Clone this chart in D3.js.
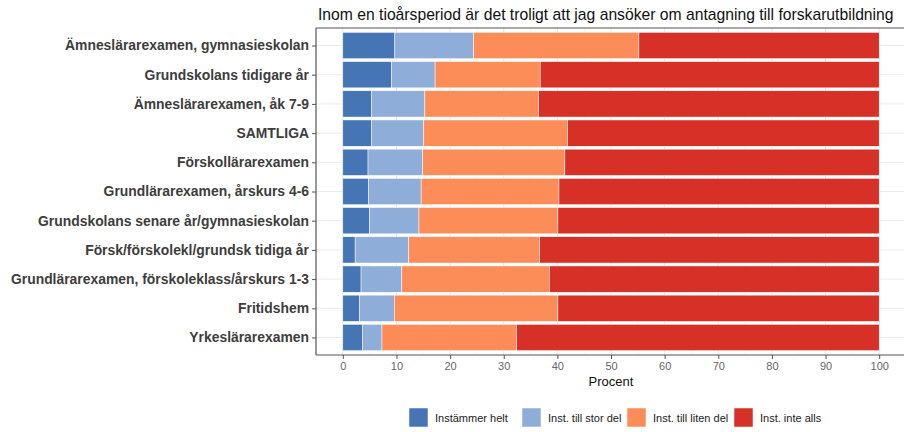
<!DOCTYPE html>
<html>
<head>
<meta charset="utf-8">
<script src="https://d3js.org/d3.v7.min.js"></script>
<style>
  body { margin: 0; background: #fff; }
  svg text { font-family: "Liberation Sans", Arial, sans-serif; }
</style>
</head>
<body>
<svg id="chart" width="904" height="432"></svg>
<script>
// categories, top to bottom
var categories = [
  "Ämneslärarexamen, gymnasieskolan",
  "Grundskolans tidigare år",
  "Ämneslärarexamen, åk 7-9",
  "SAMTLIGA",
  "Förskollärarexamen",
  "Grundlärarexamen, årskurs 4-6",
  "Grundskolans senare år/gymnasieskolan",
  "Försk/förskolekl/grundsk tidiga år",
  "Grundlärarexamen, förskoleklass/årskurs 1-3",
  "Fritidshem",
  "Yrkeslärarexamen"
];
var seriesNames = ["Instämmer helt", "Inst. till stor del", "Inst. till liten del", "Inst. inte alls"];
var seriesColors = ["#4575b4", "#8fadd9", "#fc8d59", "#d73027"];

// percent per answer, same order as categories
var helt     = [9.7, 9.1, 5.3, 5.3, 4.7, 4.8, 5.0, 2.3, 3.4, 3.1, 3.7];
var storDel  = [14.7, 8.1, 10.0, 9.8, 10.2, 9.8, 9.2, 10.0, 7.6, 6.5, 3.6];
var litenDel = [30.8, 19.6, 21.2, 26.8, 26.5, 25.7, 25.9, 24.4, 27.5, 30.5, 25.1];
var inteAlls = [44.8, 63.2, 63.5, 58.1, 58.6, 59.7, 59.9, 63.3, 61.5, 59.9, 67.6];
var xTicks = [0, 10, 20, 30, 40, 50, 60, 70, 80, 90, 100];

var svg = d3.select("#chart");
var pLeft = 316, pTop = 28, pRight = 906, pBottom = 355;

var x = d3.scaleLinear().domain([-5, 105]).range([pLeft, pRight]);
// discrete axis with 0.6 unit expansion each side
var y = d3.scalePoint().domain(categories).range([pTop, pBottom]).padding(0.6);
var step = y.step();
var barH = step * 0.9;

// grid
var g = svg.append("g");
d3.range(5, 105, 10).forEach(function(v) {
  g.append("line").attr("x1", x(v)).attr("x2", x(v)).attr("y1", pTop).attr("y2", pBottom)
    .attr("stroke", "#f3f3f3").attr("stroke-width", 0.6);
});
xTicks.forEach(function(v) {
  g.append("line").attr("x1", x(v)).attr("x2", x(v)).attr("y1", pTop).attr("y2", pBottom)
    .attr("stroke", "#e6e6e6").attr("stroke-width", 1);
});
categories.forEach(function(c) {
  g.append("line").attr("x1", pLeft).attr("x2", pRight).attr("y1", y(c)).attr("y2", y(c))
    .attr("stroke", "#ececec").attr("stroke-width", 1);
});

// stacked bars
var rows = categories.map(function(c, i) {
  return { cat: c, "0": helt[i], "1": storDel[i], "2": litenDel[i], "3": inteAlls[i] };
});
var stack = d3.stack().keys(["0", "1", "2", "3"])(rows);

svg.append("g").selectAll("g")
  .data(stack)
  .join("g")
  .attr("fill", function(d, i) { return seriesColors[i]; })
  .selectAll("rect")
  .data(function(d) { return d; })
  .join("rect")
  .attr("x", function(d) { return x(d[0]); })
  .attr("width", function(d) { return x(d[1]) - x(d[0]); })
  .attr("y", function(d) { return y(d.data.cat) - barH / 2; })
  .attr("height", barH)
  .attr("stroke", "#ffffff")
  .attr("stroke-width", 0.5);

// axes
var xAxis = svg.append("g").attr("transform", "translate(0," + pBottom + ")")
  .call(d3.axisBottom(x).tickValues(xTicks).tickSize(4).tickPadding(3));
xAxis.select(".domain").attr("d", "M" + pLeft + ",0H904").attr("stroke", "#555").attr("stroke-width", 1.2);
xAxis.selectAll(".tick line").attr("stroke", "#555");
xAxis.selectAll("text").attr("fill", "#666").style("font-size", "11px");

var yAxis = svg.append("g").attr("transform", "translate(" + pLeft + ",0)")
  .call(d3.axisLeft(y).tickSize(4).tickPadding(3));
yAxis.select(".domain").attr("d", "M0," + pTop + "V" + pBottom).attr("stroke", "#555").attr("stroke-width", 1.2);
yAxis.selectAll(".tick line").attr("stroke", "#555");
yAxis.selectAll("text").attr("fill", "#3d3d3d").style("font-size", "13.9px").style("font-weight", "bold");

// top border line
svg.append("line").attr("x1", pLeft).attr("x2", 904).attr("y1", pTop).attr("y2", pTop)
  .attr("stroke", "#555").attr("stroke-width", 1.2);

// titles
svg.append("text").attr("x", 318).attr("y", 20)
  .style("font-size", "15.7px").attr("fill", "#111")
  .text("Inom en tioårsperiod är det troligt att jag ansöker om antagning till forskarutbildning");
svg.append("text").attr("x", x(50)).attr("y", 386).attr("text-anchor", "middle")
  .style("font-size", "13px").attr("fill", "#111").text("Procent");

// legend
var legendX = [409, 522, 627, 734];
var lg = svg.append("g").selectAll("g").data(seriesNames).join("g")
  .attr("transform", function(d, i) { return "translate(" + legendX[i] + ",408)"; });
lg.append("rect").attr("width", 19).attr("height", 19)
  .attr("fill", function(d, i) { return seriesColors[i]; })
  .attr("stroke", "#fff").attr("stroke-width", 0.5);
lg.append("text").attr("x", 26).attr("y", 14).style("font-size", "11px").attr("fill", "#222")
  .text(function(d) { return d; });
</script>
</body>
</html>
